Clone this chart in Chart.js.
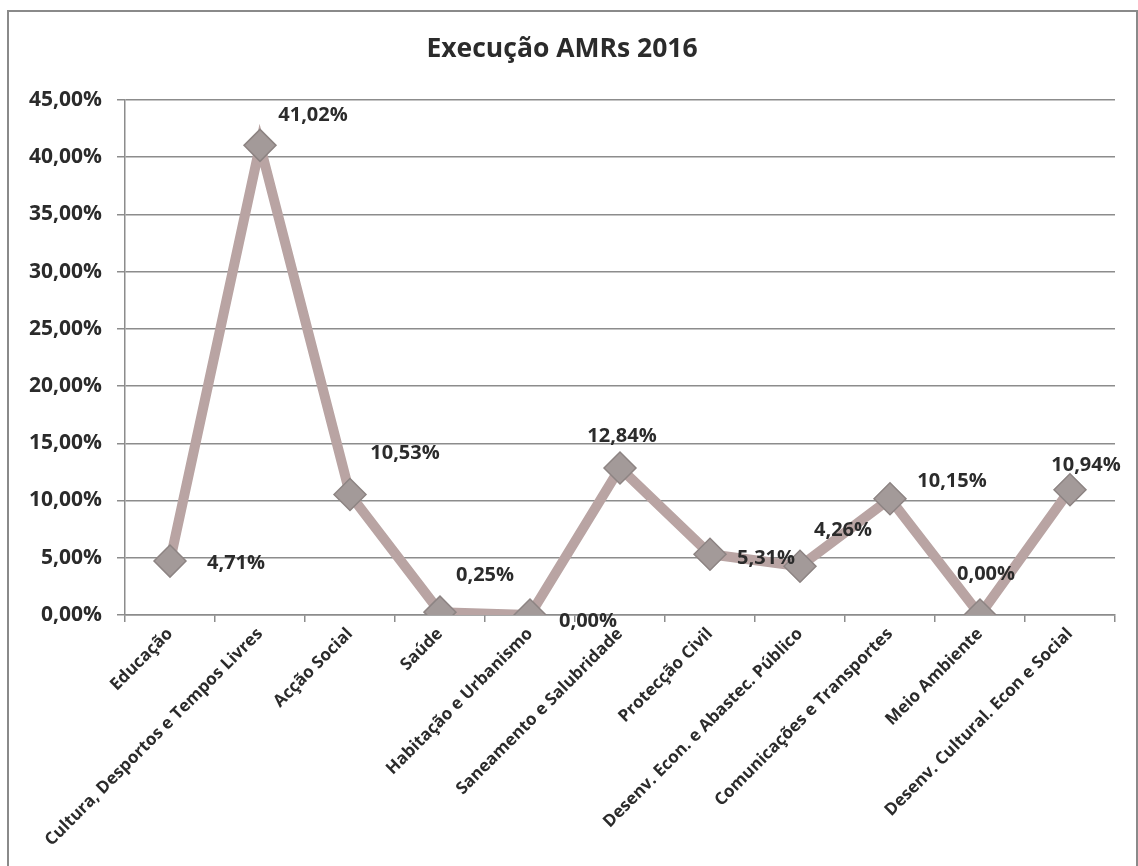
<!DOCTYPE html>
<html lang="pt">
  <head>
    <meta charset="UTF-8" />
    <title>Execução AMRs 2016</title>
    <script src="https://cdn.jsdelivr.net/npm/chart.js"></script>
    <style>
      body {
        margin: 0;
        background-color: #ffffff;
        font-family: "Open Sans", sans-serif;
      }

      #frame {
        position: absolute;
        left: 7px;
        top: 10px;
        width: 1127px;
        height: 860px;
        border: 2px solid #8a8a8a;
      }
    </style>
  </head>
  <body>
    <div id="frame">
      <canvas id="lineChart"></canvas>
    </div>

    <script>
      const categories = [
        "Educação",
        "Cultura, Desportos e Tempos Livres",
        "Acção Social",
        "Saúde",
        "Habitação e Urbanismo",
        "Saneamento e Salubridade",
        "Protecção Civil",
        "Desenv. Econ. e Abastec. Público",
        "Comunicações e Transportes",
        "Meio Ambiente",
        "Desenv. Cultural. Econ e Social",
      ];
      const execution = [4.71, 41.02, 10.53, 0.25, 0.0, 12.84, 5.31, 4.26, 10.15, 0.0, 10.94];
      const yTicks = [0, 5, 10, 15, 20, 25, 30, 35, 40, 45];

      function pct(v) {
        return v.toFixed(2).replace(".", ",") + "%";
      }

      // label offsets from each point, as placed in the original
      const labelOffsets = [
        [66, 2], [53, -30], [55, -41], [45, -37], [58, 6], [2, -32],
        [56, 4], [43, -36], [62, -17], [6, -41], [16, -24],
      ];

      const valueLabels = {
        id: "valueLabels",
        afterDatasetsDraw(chart) {
          const ctx = chart.ctx;
          const meta = chart.getDatasetMeta(0);
          ctx.save();
          ctx.font = "bold 20px 'Open Sans'";
          ctx.fillStyle = "#2b2b2b";
          ctx.textAlign = "center";
          ctx.textBaseline = "middle";
          meta.data.forEach((pt, i) => {
            const [dx, dy] = labelOffsets[i];
            ctx.fillText(pct(execution[i]), pt.x + dx, pt.y + dy);
          });
          ctx.restore();
        },
      };

      new Chart(document.getElementById("lineChart"), {
        type: "line",
        data: {
          labels: categories,
          datasets: [
            {
              label: "Execução",
              data: execution,
              borderColor: "#b9a4a3",
              borderWidth: 10,
              tension: 0,
              pointStyle: "rectRot",
              pointRadius: 16,
              pointBackgroundColor: "#a39a99",
              pointBorderColor: "#8d8483",
              pointBorderWidth: 1.5,
            },
          ],
        },
        plugins: [valueLabels],
        options: {
          responsive: true,
          maintainAspectRatio: false,
          animation: false,
          layout: { padding: { top: 22, left: 0, right: 21, bottom: 0 } },
          plugins: {
            legend: { display: false },
            tooltip: { enabled: false },
            title: {
              display: true,
              text: "Execução AMRs 2016",
              color: "#2b2b2b",
              font: { family: "Open Sans", size: 26.5, weight: "bold" },
              padding: { top: 0, bottom: 34 },
            },
          },
          scales: {
            x: {
              offset: true,
              grid: {
                offset: true,
                drawOnChartArea: false,
                drawTicks: true,
                tickLength: 7,
                color: "#8c8c8c",
                lineWidth: 1.5,
              },
              border: { color: "#8c8c8c", width: 1.5 },
              ticks: {
                autoSkip: false,
                maxRotation: 45,
                minRotation: 45,
                padding: 2,
                color: "#2b2b2b",
                font: { family: "Open Sans", size: 17, weight: "bold" },
              },
              afterFit(scale) {
                scale.height = 257;
              },
            },
            y: {
              min: 0,
              max: 45,
              afterBuildTicks(scale) {
                scale.ticks = yTicks.map((v) => ({ value: v }));
              },
              grid: {
                color: "#8c8c8c",
                lineWidth: 1.5,
                drawTicks: true,
                tickLength: 8,
              },
              border: { color: "#8c8c8c", width: 1.5 },
              ticks: {
                padding: 15,
                color: "#2b2b2b",
                font: { family: "Open Sans", size: 21, weight: "bold" },
                callback: (v) => pct(v),
              },
              afterFit(scale) {
                scale.width = 116;
              },
            },
          },
        },
      });
    </script>
  </body>
</html>
